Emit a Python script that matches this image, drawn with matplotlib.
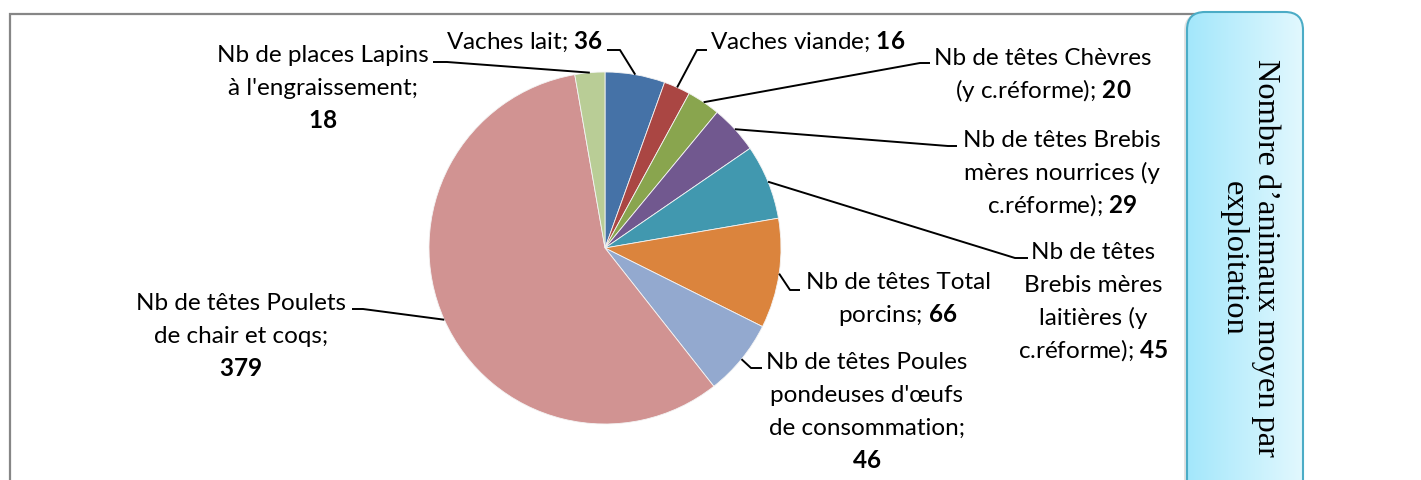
import numpy as np
import matplotlib
matplotlib.use("Agg")
import matplotlib.pyplot as plt
from matplotlib.patches import FancyBboxPatch, Rectangle
from matplotlib.colors import LinearSegmentedColormap

plt.rcParams['font.family'] = ['Lato', 'DejaVu Sans']
plt.rcParams['mathtext.fontset'] = 'custom'
plt.rcParams['mathtext.rm'] = 'Lato'
plt.rcParams['mathtext.bf'] = 'Lato:bold'

# data
categories = ["Vaches lait", "Vaches viande", "Nb de têtes Chèvres (y c.réforme)",
              "Nb de têtes Brebis mères nourrices (y c.réforme)",
              "Nb de têtes Brebis mères laitières (y c.réforme)",
              "Nb de têtes Total porcins",
              "Nb de têtes Poules pondeuses d'œufs de consommation",
              "Nb de têtes Poulets de chair et coqs",
              "Nb de places Lapins à l'engraissement"]
values = [36, 16, 20, 29, 45, 66, 46, 379, 18]
colors = ['#4572A7', '#AA4643', '#89A54E', '#71588F', '#4198AF',
          '#DB843D', '#93A9CF', '#D19392', '#B9CD96']

# wrapped label lines ({v} = value), label centre x, first baseline (px from top),
# elbow of the leader line and end of its short horizontal part
label_lines = [
    ["Vaches lait; {v}"],
    ["Vaches viande; {v}"],
    ["Nb de têtes Chèvres", "(y c.réforme); {v}"],
    ["Nb de têtes Brebis", "mères nourrices (y", "c.réforme); {v}"],
    ["Nb de têtes", "Brebis mères", "laitières (y", "c.réforme); {v}"],
    ["Nb de têtes Total", "porcins; {v}"],
    ["Nb de têtes Poules", "pondeuses d'œufs", "de consommation;", "{v}"],
    ["Nb de têtes Poulets", "de chair et coqs;", "{v}"],
    ["Nb de places Lapins", "à l'engraissement;", "{v}"],
]
label_x = [525, 808, 1043, 1062, 1093, 898, 867, 241, 323]
label_y0 = [49, 49, 65, 147, 259, 289, 369, 310, 62]
elbows = [(620, 50), (697, 50), (920, 63), (948, 146), (1015, 258),
          (790, 290), (751, 368), (363, 309), (447, 62)]
hends = [607, 707, 930, 957, 1028, 800, 762, 352, 433]

W, H = 1421, 480
fig = plt.figure(figsize=(W / 100, H / 100), dpi=100)
ax = fig.add_axes([0, 0, 1, 1])

def py(y):
    return H - y

cx, cy, r = 605, py(248), 176
wedges, _ = ax.pie(values, colors=colors, startangle=90, counterclock=False,
                   center=(cx, cy), radius=r,
                   wedgeprops=dict(edgecolor='#f4f4f4', linewidth=0.6))

ax.set_xlim(0, W)
ax.set_ylim(0, H)
ax.set_aspect('equal')
ax.axis('off')

# chart frame
ax.add_patch(Rectangle((10, -20), 1200, py(14) + 20, fill=False,
                       edgecolor='#868686', linewidth=1.6, zorder=0))

# leader lines and labels
for w, lines, lx, ly0, (ex, ey), hx, v in zip(wedges, label_lines, label_x, label_y0,
                                               elbows, hends, values):
    ang = np.deg2rad((w.theta1 + w.theta2) / 2)
    sx, sy = cx + r * np.cos(ang), cy + r * np.sin(ang)
    ax.plot([sx, ex, hx], [sy, py(ey), py(ey)], color='black', lw=1.4,
            solid_capstyle='butt', zorder=3)
    for i, line in enumerate(lines):
        txt = line.replace("{v}", r"$\mathbf{" + str(v) + "}$")
        ax.text(lx, py(ly0 + 33 * i), txt, ha='center', va='baseline',
                fontsize=17.5, color='black', zorder=4)

# side title box with gradient
bx0, bx1, by0, by1 = 1187, 1303, -30, py(12)
shadow = FancyBboxPatch((bx0 - 3, by0), bx1 - bx0, by1 - by0 - 1,
                        boxstyle="round,pad=0,rounding_size=18",
                        facecolor='#d0d0d0', edgecolor='none', alpha=0.6, zorder=5)
ax.add_patch(shadow)
box = FancyBboxPatch((bx0, by0), bx1 - bx0, by1 - by0,
                     boxstyle="round,pad=0,rounding_size=18",
                     facecolor='none', edgecolor='#4BACC6', linewidth=1.5, zorder=7)
ax.add_patch(box)
cmap = LinearSegmentedColormap.from_list('box', ['#A3E7FB', '#E2F8FE'])
grad = np.linspace(0, 1, 256).reshape(1, -1)
im = ax.imshow(grad, cmap=cmap, extent=(bx0, bx1, by0, by1), aspect='auto', zorder=6)
im.set_clip_path(box)
ax.set_xlim(0, W)
ax.set_ylim(0, H)

ax.text(1250, py(258), "Nombre d’animaux moyen par\nexploitation", rotation=-90,
        rotation_mode='anchor', ha='center', va='center', multialignment='center',
        fontsize=23.3, family='Liberation Serif', linespacing=1.15, zorder=8)

fig.savefig("out.png", dpi=100)
